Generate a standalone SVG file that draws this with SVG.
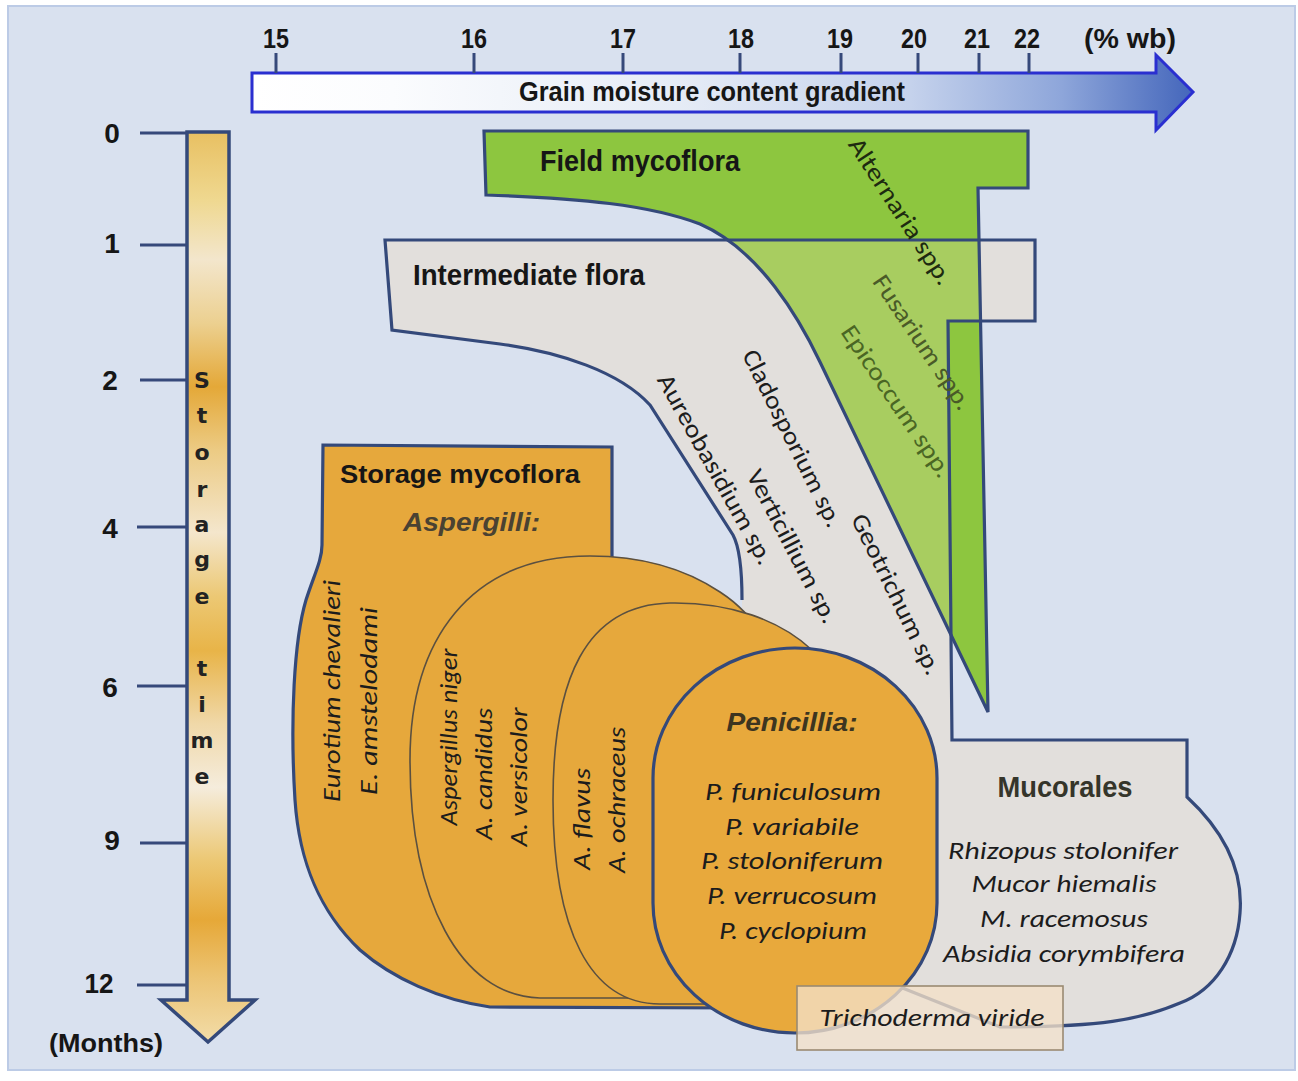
<svg xmlns="http://www.w3.org/2000/svg" width="1298" height="1081" viewBox="0 0 1298 1081">
<defs>
<style>
.nar{font-family:"Liberation Sans Narrow","Liberation Sans",Arial,sans-serif;font-weight:bold;fill:#161616}
.bld{font-family:"Liberation Sans",Arial,sans-serif;font-weight:bold;fill:#161616}
.sp{font-family:Carlito,Lato,"Open Sans",sans-serif;font-size:25px;fill:#1c1c1c}
.it{font-style:italic}
.ax{stroke:#36497a;stroke-width:3;fill:none}
.lt{font-family:"DejaVu Sans",Verdana,sans-serif;font-weight:bold;font-size:22px;fill:#222;text-anchor:middle}
.thin{stroke:#5b5040;stroke-width:1.6}
.thick{stroke:#34497a;stroke-width:3.2}
</style>
<linearGradient id="hg" x1="252" y1="0" x2="1193" y2="0" gradientUnits="userSpaceOnUse">
<stop offset="0" stop-color="#ffffff"/>
<stop offset="0.15" stop-color="#fbfcfe"/>
<stop offset="0.45" stop-color="#e6ecf6"/>
<stop offset="0.7" stop-color="#c5d2ec"/>
<stop offset="0.86" stop-color="#8ea6da"/>
<stop offset="1" stop-color="#4466bb"/>
</linearGradient>
<linearGradient id="vg" x1="0" y1="132" x2="0" y2="1042" gradientUnits="userSpaceOnUse">
<stop offset="0" stop-color="#e8c062"/>
<stop offset="0.075" stop-color="#efd890"/>
<stop offset="0.14" stop-color="#f3e6cc"/>
<stop offset="0.21" stop-color="#ecd090"/>
<stop offset="0.28" stop-color="#e4a838"/>
<stop offset="0.35" stop-color="#eccb84"/>
<stop offset="0.44" stop-color="#f4e6cc"/>
<stop offset="0.51" stop-color="#ecc874"/>
<stop offset="0.57" stop-color="#e8b448"/>
<stop offset="0.65" stop-color="#f0d8a8"/>
<stop offset="0.72" stop-color="#f5ecdc"/>
<stop offset="0.8" stop-color="#ecc874"/>
<stop offset="0.866" stop-color="#e6a838"/>
<stop offset="0.93" stop-color="#ecc474"/>
<stop offset="1" stop-color="#f2dca8"/>
</linearGradient>
<clipPath id="interClip">
<path d="M 742,600 C 742,575 740,548 733,535 L 650,405 C 620,372 560,352 500,344 L 392,330 L 385,240 L 1035,240 L 1035,321 L 948,321 L 952,740 L 1187,740 L 1187,797 C 1228,835 1243,875 1240,913 C 1237,955 1215,990 1180,1003 C 1140,1020 1100,1027 1000,1027 L 900,987 L 800,900 L 760,700 L 742,640 Z"/>
</clipPath>
</defs>

<rect x="0" y="0" width="1298" height="1081" fill="#ffffff"/>
<rect x="8" y="6" width="1287" height="1064" fill="#d9e1ef" stroke="#bccbe6" stroke-width="2"/>

<g id="moisture-axis">
<path d="M 252,73 L 1156,73 L 1156,55 L 1193,92 L 1156,130 L 1156,112 L 252,112 Z" fill="url(#hg)" stroke="#2a2fd0" stroke-width="3"/>
<g class="ax">
<line x1="276" y1="53" x2="276" y2="73"/>
<line x1="474" y1="53" x2="474" y2="73"/>
<line x1="623" y1="53" x2="623" y2="73"/>
<line x1="740" y1="53" x2="740" y2="73"/>
<line x1="841" y1="53" x2="841" y2="73"/>
<line x1="918" y1="53" x2="918" y2="73"/>
<line x1="979" y1="53" x2="979" y2="73"/>
<line x1="1029" y1="53" x2="1029" y2="73"/>
</g>
<g class="nar" font-size="27" text-anchor="middle">
<text x="276" y="48" textLength="26" lengthAdjust="spacingAndGlyphs">15</text>
<text x="474" y="48" textLength="26" lengthAdjust="spacingAndGlyphs">16</text>
<text x="623" y="48" textLength="26" lengthAdjust="spacingAndGlyphs">17</text>
<text x="741" y="48" textLength="26" lengthAdjust="spacingAndGlyphs">18</text>
<text x="840" y="48" textLength="26" lengthAdjust="spacingAndGlyphs">19</text>
<text x="914" y="48" textLength="26" lengthAdjust="spacingAndGlyphs">20</text>
<text x="977" y="48" textLength="26" lengthAdjust="spacingAndGlyphs">21</text>
<text x="1027" y="48" textLength="26" lengthAdjust="spacingAndGlyphs">22</text>
<text x="1130" y="48" textLength="92" lengthAdjust="spacingAndGlyphs">(% wb)</text>
<text x="712" y="101" textLength="386" lengthAdjust="spacingAndGlyphs">Grain moisture content gradient</text>
</g>
</g>

<g id="time-axis">
<path d="M 187,132 L 229,132 L 229,1000 L 255,1000 L 208,1042 L 161,1000 L 187,1000 Z" fill="url(#vg)" stroke="#34497a" stroke-width="3.5"/>
<g class="ax">
<line x1="140" y1="133" x2="187" y2="133"/>
<line x1="140" y1="245" x2="187" y2="245"/>
<line x1="140" y1="380" x2="187" y2="380"/>
<line x1="137" y1="527" x2="187" y2="527"/>
<line x1="137" y1="686" x2="187" y2="686"/>
<line x1="140" y1="843" x2="187" y2="843"/>
<line x1="137" y1="985" x2="187" y2="985"/>
</g>
<g class="bld" font-size="28" text-anchor="middle">
<text x="112" y="143">0</text>
<text x="112" y="253">1</text>
<text x="110" y="390">2</text>
<text x="110" y="538">4</text>
<text x="110" y="697">6</text>
<text x="112" y="850">9</text>
<text x="99" y="993" textLength="29" lengthAdjust="spacingAndGlyphs">12</text>
<text x="106" y="1052" font-size="26" textLength="114" lengthAdjust="spacingAndGlyphs">(Months)</text>
</g>
<g>
<text class="lt" x="202" y="388">S</text>
<text class="lt" x="202" y="423">t</text>
<text class="lt" x="202" y="460">o</text>
<text class="lt" x="202" y="497">r</text>
<text class="lt" x="202" y="532">a</text>
<text class="lt" x="202" y="567">g</text>
<text class="lt" x="202" y="604">e</text>
<text class="lt" x="202" y="676">t</text>
<text class="lt" x="202" y="712">i</text>
<text class="lt" x="202" y="748">m</text>
<text class="lt" x="202" y="784">e</text>
</g>
</g>

<g id="field-mycoflora">
<path d="M 484,131 L 1028,131 L 1028,188 L 978,188 L 988,712 L 820,362 C 800,320 760,250 700,224 C 650,205 580,198 486,195 Z" fill="#8dc63f"/>
</g>

<g id="intermediate-flora">
<path d="M 742,600 C 742,575 740,548 733,535 L 650,405 C 620,372 560,352 500,344 L 392,330 L 385,240 L 1035,240 L 1035,321 L 948,321 L 952,740 L 1187,740 L 1187,797 C 1228,835 1243,875 1240,913 C 1237,955 1215,990 1180,1003 C 1140,1020 1100,1027 1000,1027 L 900,987 L 800,900 L 760,700 L 742,640 Z" fill="#e2dfdc"/>
<path clip-path="url(#interClip)" d="M 484,131 L 1028,131 L 1028,188 L 978,188 L 988,712 L 820,362 C 800,320 760,250 700,224 C 650,205 580,198 486,195 Z" fill="#a8cd60"/>
<path d="M 742,600 C 742,575 740,548 733,535 L 650,405 C 620,372 560,352 500,344 L 392,330 L 385,240 L 1035,240 L 1035,321 L 948,321 L 952,740 L 1187,740 L 1187,797 C 1228,835 1243,875 1240,913 C 1237,955 1215,990 1180,1003 C 1140,1020 1100,1027 1000,1027 L 900,987" fill="none" class="thick"/>
</g>

<g id="field-outline">
<path d="M 484,131 L 1028,131 L 1028,188 L 978,188 L 988,712 L 820,362 C 800,320 760,250 700,224 C 650,205 580,198 486,195 Z" fill="none" class="thick"/>
</g>

<g id="storage-mycoflora">
<path d="M 323,445 L 612,447 L 612,650 L 740,650 L 740,1008 L 490,1007 C 440,1000 392,978 360,950 C 318,910 299,860 295,800 C 290,720 294,640 306,600 C 314,575 322,560 322,545 Z" fill="#e6a83c" class="thick"/>
</g>

<g id="aspergillus-niger-group">
<path d="M 410,760 C 410,640 470,556 590,556 C 650,556 690,572 720,592 C 740,605 755,622 765,640 L 765,900 L 700,998 L 540,998 C 460,996 410,900 410,760 Z" fill="#e6a83c" class="thin"/>
</g>

<g id="aspergillus-flavus-group">
<path d="M 553,800 C 553,680 585,605 670,603 C 730,602 780,620 812,650 L 800,760 L 780,1004 L 660,1004 C 590,1004 553,930 553,800 Z" fill="#e6a83c" class="thin"/>
</g>

<g id="penicillia">
<rect x="653" y="648" width="284" height="385" rx="142" ry="130" fill="#e8a93c" class="thick"/>
</g>

<g id="trichoderma">
<rect x="797" y="986" width="266" height="64" fill="#f4e0c8" fill-opacity="0.78" stroke="#9a8a72" stroke-width="1.6"/>
<text class="sp it" x="932" y="1026" text-anchor="middle" textLength="225" lengthAdjust="spacingAndGlyphs">Trichoderma viride</text>
</g>

<g id="labels">
<text class="nar" x="540" y="171" font-size="29" textLength="200" lengthAdjust="spacingAndGlyphs">Field mycoflora</text>
<text class="nar" x="413" y="285" font-size="29" textLength="232" lengthAdjust="spacingAndGlyphs">Intermediate flora</text>
<text class="bld" x="340" y="483" font-size="25" textLength="240" lengthAdjust="spacingAndGlyphs">Storage mycoflora</text>
<text class="bld" x="403" y="531" font-size="25" font-style="italic" style="fill:#4a4232" textLength="137" lengthAdjust="spacingAndGlyphs">Aspergilli:</text>
<text class="bld" x="792" y="731" font-size="25" font-style="italic" style="fill:#3d3520" text-anchor="middle" textLength="131" lengthAdjust="spacingAndGlyphs">Penicillia:</text>
<text class="nar" x="1065" y="797" font-size="29" style="fill:#35352a" text-anchor="middle" textLength="135" lengthAdjust="spacingAndGlyphs">Mucorales</text>

<g class="sp" text-anchor="middle">
<text transform="translate(901,211) rotate(57)" dy="0.35em" textLength="170" lengthAdjust="spacingAndGlyphs" style="fill:#1d2a10">Alternaria spp.</text>
<text transform="translate(923,342) rotate(56)" dy="0.35em" textLength="157" lengthAdjust="spacingAndGlyphs" style="fill:#4a5a28">Fusarium spp.</text>
<text transform="translate(897,401) rotate(56)" dy="0.35em" textLength="178" lengthAdjust="spacingAndGlyphs" style="fill:#4a6624">Epicoccum spp.</text>
<text transform="translate(793,438) rotate(63.5)" dy="0.35em" textLength="195" lengthAdjust="spacingAndGlyphs">Cladosporium sp.</text>
<text transform="translate(793,546) rotate(62.5)" dy="0.35em" textLength="170" lengthAdjust="spacingAndGlyphs">Verticillium sp.</text>
<text transform="translate(716,469) rotate(61)" dy="0.35em" textLength="214" lengthAdjust="spacingAndGlyphs">Aureobasidium sp.</text>
<text transform="translate(897,594) rotate(64)" dy="0.35em" textLength="176" lengthAdjust="spacingAndGlyphs">Geotrichum sp.</text>
</g>

<g class="sp it" text-anchor="middle">
<text transform="translate(340,691) rotate(-90)" textLength="222" lengthAdjust="spacingAndGlyphs">Eurotium chevalieri</text>
<text transform="translate(377,701) rotate(-90)" textLength="188" lengthAdjust="spacingAndGlyphs">E. amstelodami</text>
<text transform="translate(457,737) rotate(-90)" textLength="177" lengthAdjust="spacingAndGlyphs">Aspergillus niger</text>
<text transform="translate(492,774) rotate(-90)" textLength="132" lengthAdjust="spacingAndGlyphs">A. candidus</text>
<text transform="translate(527,777) rotate(-90)" textLength="139" lengthAdjust="spacingAndGlyphs">A. versicolor</text>
<text transform="translate(590,819) rotate(-90)" textLength="102" lengthAdjust="spacingAndGlyphs">A. flavus</text>
<text transform="translate(625,800) rotate(-90)" textLength="146" lengthAdjust="spacingAndGlyphs">A. ochraceus</text>

<text x="793" y="800" textLength="176" lengthAdjust="spacingAndGlyphs">P. funiculosum</text>
<text x="792" y="835" textLength="134" lengthAdjust="spacingAndGlyphs">P. variabile</text>
<text x="792" y="869" textLength="182" lengthAdjust="spacingAndGlyphs">P. stoloniferum</text>
<text x="792" y="904" textLength="170" lengthAdjust="spacingAndGlyphs">P. verrucosum</text>
<text x="793" y="939" textLength="148" lengthAdjust="spacingAndGlyphs">P. cyclopium</text>

<text x="1063" y="859" textLength="230" lengthAdjust="spacingAndGlyphs">Rhizopus stolonifer</text>
<text x="1064" y="892" textLength="185" lengthAdjust="spacingAndGlyphs">Mucor hiemalis</text>
<text x="1064" y="927" textLength="168" lengthAdjust="spacingAndGlyphs">M. racemosus</text>
<text x="1064" y="962" textLength="242" lengthAdjust="spacingAndGlyphs">Absidia corymbifera</text>
</g>
</g>
</svg>
